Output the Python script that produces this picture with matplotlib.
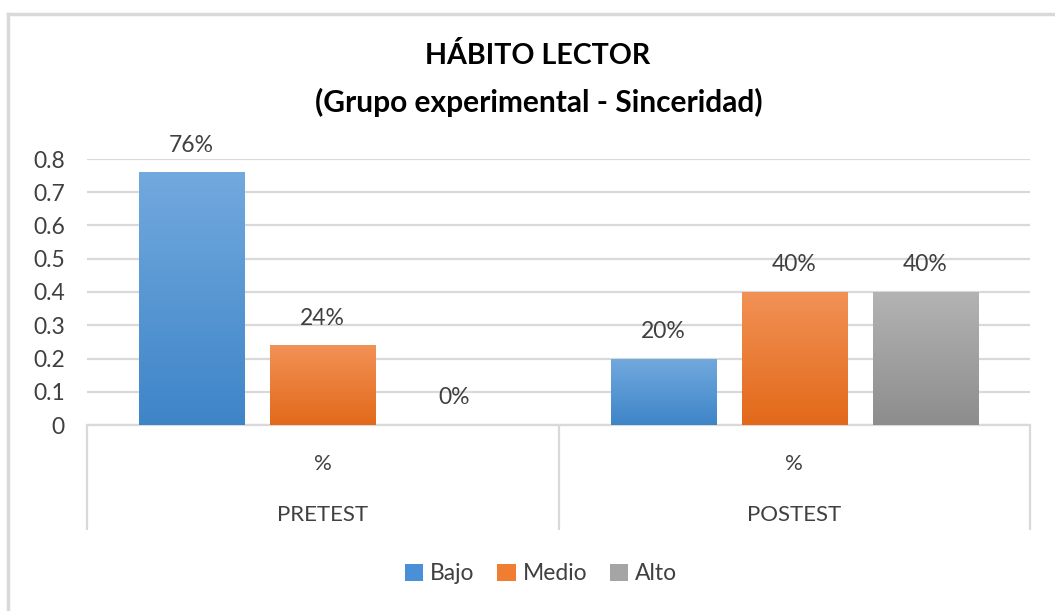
import numpy as np
import matplotlib.pyplot as plt
from matplotlib.lines import Line2D
from matplotlib.patches import Patch
from matplotlib.colors import LinearSegmentedColormap

plt.rcParams['font.family'] = ['Lato', 'DejaVu Sans']

groups = ['PRETEST', 'POSTEST']
sub_labels = ['%', '%']
series = ['Bajo', 'Medio', 'Alto']
values = {
    'Bajo': [0.76, 0.20],
    'Medio': [0.24, 0.40],
    'Alto': [0.00, 0.40],
}
labels = {
    'Bajo': ['76%', '20%'],
    'Medio': ['24%', '40%'],
    'Alto': ['0%', '40%'],
}
# top / bottom colours of the gradient fill
grad = {
    'Bajo': ('#72a9de', '#3e85c8'),
    'Medio': ('#f29155', '#e2691a'),
    'Alto': ('#b3b3b3', '#8d8d8d'),
}
legend_col = {'Bajo': '#4a90d6', 'Medio': '#f07d31', 'Alto': '#a5a5a5'}

W, H = 1055, 611
fig = plt.figure(figsize=(W / 100, H / 100), dpi=100)
ax = fig.add_axes([87 / W, (H - 425) / H, (1030 - 87) / W, (425 - 159) / H])

x = np.arange(len(groups))
width = 0.223
step = 0.278
for i, s in enumerate(series):
    pos = x + (i - 1) * step
    bars = ax.bar(pos, values[s], width, color='none', edgecolor='none', zorder=3)
    cmap = LinearSegmentedColormap.from_list(s, [grad[s][1], grad[s][0]])
    for b, lab in zip(bars, labels[s]):
        x0, y0 = b.get_x(), b.get_y()
        h = b.get_height()
        if h > 0:
            img = ax.imshow(np.linspace(0, 1, 100).reshape(-1, 1), cmap=cmap,
                            extent=[x0, x0 + b.get_width(), 0, h],
                            origin='lower', aspect='auto', zorder=3)
            img.set_clip_path(b)
        ax.annotate(lab, (x0 + b.get_width() / 2, h), xytext=(0, 12),
                    textcoords='offset points', ha='center', va='bottom',
                    fontsize=16.5, color='#404040')

ax.set_xlim(-0.5, 1.5)
ax.set_ylim(0, 0.8)
ax.set_yticks(np.arange(0, 0.81, 0.1))
ax.set_yticklabels(['0'] + [f'{v:.1f}' for v in np.arange(0.1, 0.81, 0.1)])
ax.tick_params(axis='y', length=0, labelsize=16.5, labelcolor='#404040', pad=16)
ax.grid(axis='y', color='#d9d9d9', linewidth=1.6, zorder=0)
ax.set_axisbelow(True)
for sp in ax.spines.values():
    sp.set_visible(False)

ax.set_xticks(x)
ax.set_xticklabels(sub_labels)
ax.tick_params(axis='x', length=0, labelsize=16, labelcolor='#404040', pad=21)
tr = ax.get_xaxis_transform()
for xi, g in zip(x, groups):
    ax.text(xi, -0.338, g, transform=tr, ha='center', va='center',
            fontsize=16, color='#404040')
ax.plot([-0.5, 1.5], [0, 0], transform=tr, color='#d9d9d9', lw=1.6, clip_on=False)
ax.vlines([-0.5, 0.5, 1.5], -0.395, 0, transform=tr, color='#d9d9d9', lw=1.6,
          clip_on=False)

fig.text(538 / W, 1 - 56 / H, 'HÁBITO LECTOR', ha='center', va='center',
         fontsize=20.6, fontweight='bold', color='black')
fig.text(539 / W, 1 - 102 / H, '(Grupo experimental - Sinceridad)', ha='center',
         va='center', fontsize=21.5, fontweight='bold', color='black')

handles = [Patch(facecolor=legend_col[s], label=s) for s in series]
fig.legend(handles=handles, loc='center', bbox_to_anchor=(541 / W, 1 - 574 / H),
           ncol=3, frameon=False, fontsize=16.5, handlelength=0.8, handleheight=0.8,
           handletextpad=0.3, columnspacing=1.0, labelcolor='#404040')

fig.add_artist(Line2D([8 / W, 8 / W], [0, 1 - 14 / H], color='#d9d9d9', lw=2.5))
fig.add_artist(Line2D([8 / W, 1], [1 - 14 / H, 1 - 14 / H], color='#d9d9d9', lw=2.5))

fig.savefig('out.png', dpi=100)
